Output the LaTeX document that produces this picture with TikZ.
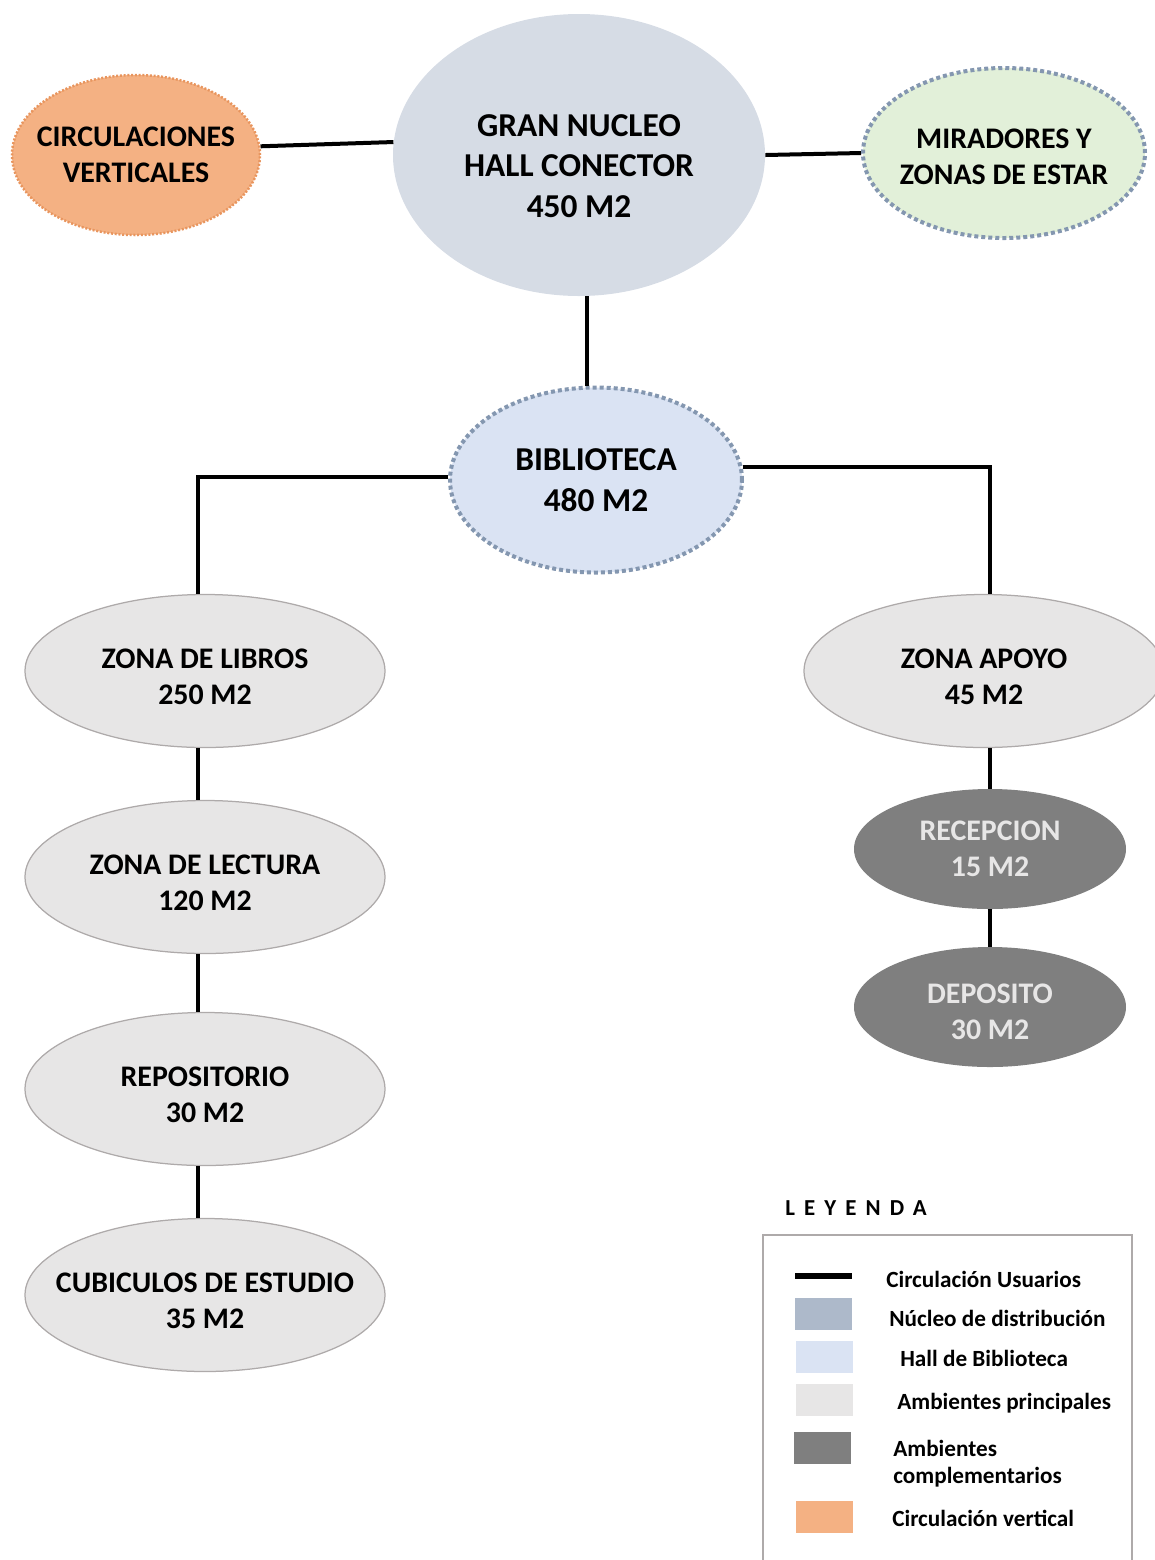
\documentclass[tikz,border=0pt]{standalone}
\usepackage{fontspec}
\setmainfont{Carlito}
\newfontfamily\spaced{Carlito}[LetterSpace=40]
\usetikzlibrary{shapes.geometric}
\definecolor{naranja}{HTML}{F4B183}
\definecolor{naranjaB}{HTML}{E8955E}
\definecolor{nucleo}{HTML}{D6DCE5}
\definecolor{nucleoL}{HTML}{ADB9CA}
\definecolor{verde}{HTML}{E2F0D9}
\definecolor{azul}{HTML}{DAE3F3}
\definecolor{punteado}{HTML}{8497B0}
\definecolor{claro}{HTML}{E7E6E6}
\definecolor{borde}{HTML}{AEAAAA}
\definecolor{oscuro}{HTML}{7F7F7F}
\newcommand\sube[1]{\rule{0pt}{#1}}
\tikzset{
  room/.style = {ellipse, inner ysep = 0pt, inner xsep = -6mm, align = center},
  big/.style = {room, font = \bfseries\fontsize{19}{23}\selectfont},
  small/.style = {room, font = \bfseries\fontsize{17}{20.5}\selectfont},
  dotborder/.style = {draw = punteado, line width = 0.8mm, dash pattern = on 0.8mm off 0.6mm},
  principal/.style = {small, fill = claro, draw = borde, line width = 0.25mm,
    minimum width = 72mm, minimum height = 30.6mm},
  complem/.style = {small, fill = oscuro, text = claro, minimum width = 54.4mm, minimum height = 24mm},
  link/.style = {line width = 0.8mm},
  leg/.style = {anchor = west, align = left, inner sep = 0pt, font = \bfseries\fontsize{13.2}{15.5}\selectfont}
}
\begin{document}
\begin{tikzpicture}[x = 0.2mm, y = -0.2mm]
    \useasboundingbox (0, 0) rectangle (1155, 1560);

    % top row
    \node [small, fill = naranja, draw = naranjaB, line width = 0.5mm, dash pattern = on 0.4mm off 0.35mm,
      minimum width = 49.6mm, minimum height = 32mm] (circ) at (136, 155) {CIRCULACIONES\\VERTICALES};
    \node [big, fill = nucleo, minimum width = 74.4mm, minimum height = 56.4mm] (gran) at (579, 155)
      {\sube{24.7pt}GRAN NUCLEO\\HALL CONECTOR\\450 M2};
    \node [small, fill = verde, dotborder, minimum width = 56.4mm, minimum height = 34mm] (mir) at (1004, 153)
      {\sube{15pt}MIRADORES Y\\ZONAS DE ESTAR};

    \node [big, fill = azul, dotborder, minimum width = 58.4mm, minimum height = 37mm] (bib) at (596, 480)
      {BIBLIOTECA\\480 M2};

    % left branch
    \node [principal] (libros) at (205, 671) {\sube{17.8pt}ZONA DE LIBROS\\250 M2};
    \node [principal] (lectura) at (205, 877) {\sube{17.8pt}ZONA DE LECTURA\\120 M2};
    \node [principal] (repo) at (205, 1089) {\sube{17.8pt}REPOSITORIO\\30 M2};
    \node [principal] (cubic) at (205, 1295) {\sube{17.8pt}CUBICULOS DE ESTUDIO\\35 M2};

    % right branch
    \node [principal] (apoyo) at (984, 671) {\sube{17.8pt}ZONA APOYO\\45 M2};
    \node [complem] (recep) at (990, 849) {RECEPCION\\15 M2};
    \node [complem] (depo) at (990, 1007) {\sube{16.6pt}DEPOSITO\\30 M2};

    \draw [link] (circ.4) -- (gran.176);
    \draw [link] (gran.east) -- (mir.west);
    \draw [link] ([xshift = 1.6mm]gran.south) -- ([xshift = 1.6mm]gran.south |- bib.north);
    \draw [link] (bib.179) -| ([xshift = -1.4mm]libros.north);
    \draw [link] (bib.5) -| (recep.north |- apoyo.north);
    \draw [link] ([xshift = -1.4mm]libros.south) -- ([xshift = -1.4mm]lectura.north);
    \draw [link] ([xshift = -1.4mm]lectura.south) -- ([xshift = -1.4mm]repo.north);
    \draw [link] ([xshift = -1.4mm]repo.south) -- ([xshift = -1.4mm]cubic.north);
    \draw [link] (recep.north |- apoyo.south) -- (recep.north);
    \draw [link] (recep) -- (depo);

    % leyenda
    \node [anchor = west, inner sep = 0pt, font = \spaced\bfseries\fontsize{13}{15}\selectfont] (ley) at (785, 1208) {LEYENDA};
    \draw [borde, line width = 0.4mm] (763, 1235) rectangle (1132, 1600);
    \draw [line width = 1.3mm] (795, 1276) -- (852, 1276);
    \fill [nucleoL] (795, 1298) rectangle (852, 1330);
    \fill [azul] (796, 1341) rectangle (853, 1373);
    \fill [claro] (796, 1384) rectangle (853, 1416);
    \fill [oscuro] (794, 1432) rectangle (851, 1464);
    \fill [naranja] (796, 1501) rectangle (853, 1533);
    \node [leg] (l1) at (886, 1279) {Circulación Usuarios};
    \node [leg] (l2) at (889, 1318) {Núcleo de distribución};
    \node [leg] (l3) at (900, 1358) {Hall de Biblioteca};
    \node [leg] (l4) at (897, 1403) {Ambientes principales};
    \node [leg] (l5) at (893, 1464) {Ambientes\\complementarios};
    \node [leg] (l6) at (892, 1518) {Circulación vertical};
\end{tikzpicture}
\end{document}
